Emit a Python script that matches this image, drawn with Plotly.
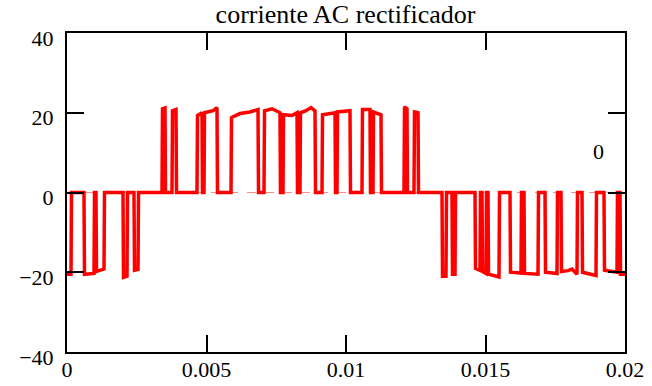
import plotly.graph_objects as go

# time (s) and current (A) of the rectifier AC current trace
t = [0, 0.000143, 0.000161, 0.000609, 0.000627, 0.000968, 0.000986, 0.001039, 0.001057, 0.001326,
     0.001344, 0.002007, 0.002025, 0.002151, 0.002168, 0.002401, 0.002419, 0.002545, 0.002563,
     0.003405, 0.003423, 0.003513, 0.003530, 0.003763, 0.003781, 0.003907, 0.003925,
     0.004659, 0.004677, 0.004839, 0.004857, 0.004910, 0.004928, 0.005233, 0.005376, 0.005394,
     0.005878, 0.005896, 0.006201, 0.006559, 0.006846, 0.006864, 0.007061, 0.007079, 0.007348,
     0.007634, 0.007652, 0.007742, 0.007760, 0.008065, 0.008244, 0.008262, 0.008351, 0.008369,
     0.008566, 0.008746, 0.008889, 0.008907, 0.009140, 0.009158, 0.009606, 0.009624, 0.009677,
     0.009695, 0.010143, 0.010161, 0.010573, 0.010591, 0.010860, 0.010878, 0.010968, 0.010986,
     0.011254, 0.011272, 0.012079, 0.012097, 0.012186, 0.012204, 0.012437, 0.012455, 0.012581,
     0.012599,
     0.013441, 0.013459, 0.013584, 0.013602, 0.013799, 0.013817, 0.013907, 0.013925,
     0.014624, 0.014642, 0.014803, 0.014821, 0.014875, 0.014892, 0.015018, 0.015036, 0.015090,
     0.015108, 0.015484, 0.015502, 0.015878, 0.015896, 0.016272, 0.016290, 0.016380, 0.016398,
     0.016882, 0.016900, 0.017133, 0.017151, 0.017563, 0.017581, 0.017706, 0.017724, 0.017957,
     0.018100, 0.018280, 0.018297, 0.018459, 0.018477, 0.018961, 0.018978, 0.019247, 0.019265,
     0.019713, 0.019731, 0.019821, 0.019839, 0.02]
i_ac = [-20.5, -20.5, 0, 0, -20.5, -20.3, 0, 0, -19.8, -19.2,
        0, 0, -21.3, -21, 0, 0, -19.5, -19.3, 0,
        0, 21, 21.2, 0, 0, 20.5, 20.8, 0,
        0, 19.3, 20, 0, 0, 20, 20.5, 21.3, 0,
        0, 18.8, 19.8, 20.2, 20.8, 0, 0, 20.5, 21,
        20, 0, 0, 19.5, 19.3, 20, 0, 0, 20,
        20.5, 21.3, 20.5, 0, 0, 19.5, 20, 0, 0,
        20.2, 20.5, 0, 0, 20.8, 20.8, 0, 0, 20.2,
        19.5, 0, 0, 21.5, 21, 0, 0, 20.2, 20,
        0,
        0, -21, -21, 0, 0, -20.5, -20.5, 0,
        0, -19, -19.5, 0, 0, -19.8, -20.3, 0, 0,
        -20.5, -21.2, 0, 0, -20, -20.2, 0, 0, -20.3,
        -20.5, 0, 0, -20, -20.3, 0, 0, -19.8, -19.6,
        -19.2, -20.5, 0, 0, -20, -20.8, 0, 0, -19.5,
        -20, 0, 0, -20.5, -20.5]

marker_t = [0, 0.02]
marker_i = [0, 0]
marker_label = "0"
marker_label_pos = (0.01905, 10.2)

x_ticks = [0, 0.005, 0.01, 0.015, 0.02]
x_labels = ["0", "0.005", "0.01", "0.015", "0.02"]
y_ticks = [-40, -20, 0, 20, 40]
y_labels = ["\u221240", "\u221220", "0", "20", "40"]

title_text = "corriente AC rectificador"

SERIF = "Liberation Serif, Times New Roman, Times, serif"

fig = go.Figure()
fig.add_trace(go.Scatter(x=marker_t, y=marker_i, mode="lines",
                         line=dict(color="rgba(255,0,0,0.45)", width=1, dash="dash"),
                         hoverinfo="skip", showlegend=False))
fig.add_trace(go.Scatter(x=t, y=i_ac, mode="lines",
                         line=dict(color="#ff0000", width=3.5),
                         showlegend=False))
fig.add_annotation(x=marker_label_pos[0], y=marker_label_pos[1], text=marker_label,
                   showarrow=False, font=dict(family=SERIF, size=22, color="black"))

axis_common = dict(showline=True, linecolor="black", linewidth=2, mirror="ticks",
                   ticks="inside", ticklen=17, tickwidth=2, tickcolor="black",
                   showgrid=False, zeroline=False, automargin=False,
                   tickfont=dict(family=SERIF, size=22, color="black"))

fig.update_xaxes(range=[0, 0.02], tickvals=x_ticks, ticktext=x_labels,
                 ticklabelstandoff=-3, **axis_common)
fig.update_yaxes(range=[-40, 40], tickvals=y_ticks, ticktext=y_labels,
                 ticklabelstandoff=7, ticklabelshift=5, **axis_common)

fig.update_layout(
    width=652, height=386,
    margin=dict(l=67, r=27, t=33, b=34, pad=0),
    paper_bgcolor="white", plot_bgcolor="white",
    title=dict(text=title_text, x=0.53, xanchor="center", y=0.965, yanchor="middle",
               yref="container",
               font=dict(family=SERIF, size=26, color="black")),
    showlegend=False,
)

fig.write_html("out.html")
